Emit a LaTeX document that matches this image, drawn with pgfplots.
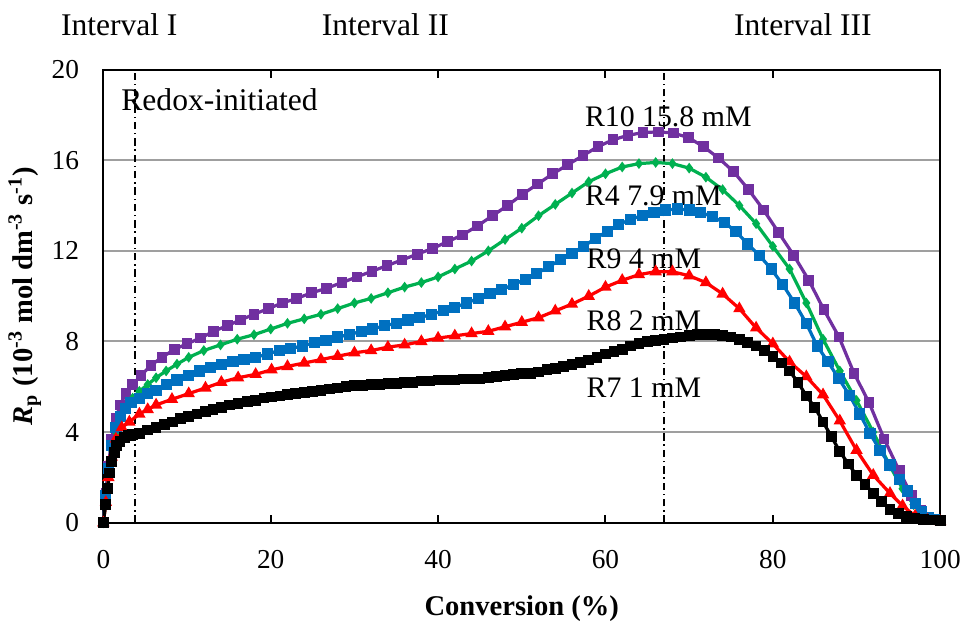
\documentclass[border=0pt]{standalone}
\usepackage{fontspec}
\setmainfont{Liberation Serif}
\usepackage{pgfplots}
\pgfplotsset{compat=1.18}
\definecolor{rpurple}{HTML}{7030A0}
\definecolor{rgreen}{HTML}{00B050}
\definecolor{rblue}{HTML}{0070C0}
\definecolor{rred}{HTML}{FF0000}

\begin{document}
\begin{tikzpicture}
\begin{axis}[
    scale only axis,
    width=336.8pt,
    height=182.4pt,
    xmin=0, xmax=100,
    ymin=0, ymax=20,
    xtick={0,20,...,100},
    ytick={0,4,...,20},
    clip=false,
    axis line style={line width=0.8pt},
    tick align=inside,
    major tick length=3.2pt,
    xtick style={black, line width=0.8pt},
    ytick style={draw=none},
    ymajorgrids=true,
    grid style={gray!75, line width=0.8pt},
    /pgf/number format/assume math mode=true,
    tick label style={font=\fontsize{11}{13}\selectfont},
    xticklabel style={yshift=-7.5pt},
    yticklabel style={xshift=-6.3pt},
    xlabel={\textbf{Conversion (\%)}},
    ylabel={\textbf{\textit{R}\textsubscript{p} (10\textsuperscript{-3} mol dm\textsuperscript{-3} s\textsuperscript{-1})}},
    label style={font=\fontsize{11.5}{13}\selectfont},
    xlabel style={at={(axis description cs:0.5,-0.19)}, anchor=center},
    ylabel style={at={(axis description cs:-0.094,0.5)}, anchor=center},
    every axis plot/.append style={line width=1.3pt},
]
% interval boundaries
\addplot[black, line width=0.6pt, dash pattern=on 3pt off 1.5pt on 0.6pt off 1.5pt, forget plot] coordinates {(3.8,0) (3.8,20)};
\addplot[black, line width=0.6pt, dash pattern=on 3pt off 1.5pt on 0.6pt off 1.5pt, forget plot] coordinates {(67.0,0) (67.0,20)};

% R10 15.8 mM
\addplot[rpurple, mark=square*, mark size=1.5pt] coordinates {
(0,0) (0.3,1.3) (0.6,2.5) (1.0,3.7) (1.5,4.6) (2.0,5.2) (2.7,5.7) (3.5,6.1)
(4.5,6.5) (5.7,6.95) (7.0,7.3) (8.5,7.65) (10.0,7.9) (11.6,8.15) (13.2,8.45)
(14.8,8.7) (16.4,8.95) (18.0,9.2) (19.7,9.45) (21.4,9.7) (23.1,9.9) (24.9,10.15)
(26.7,10.35) (28.5,10.6) (30.3,10.85) (32.1,11.1) (33.9,11.35) (35.7,11.6)
(37.5,11.85) (39.3,12.1) (41.1,12.4) (42.9,12.7) (44.7,13.1) (46.5,13.55)
(48.3,14.0) (50.1,14.5) (51.9,14.95) (53.7,15.4) (55.5,15.8) (57.3,16.2)
(59.1,16.6) (60.9,16.9) (62.7,17.1) (64.5,17.22) (66.3,17.25) (68.1,17.2)
(69.9,17.0) (71.7,16.6) (73.5,16.1) (75.3,15.5) (77.1,14.7) (78.9,13.8)
(80.7,12.8) (82.5,11.8) (84.3,10.7) (86.1,9.4) (87.9,8.2) (89.7,6.6)
(91.5,5.3) (93.3,3.7) (95.1,2.3) (96.6,1.2) (97.7,0.55) (98.6,0.25) (99.4,0.12) (100,0.1)
};
% R4 7.9 mM
\addplot[rgreen, mark=diamond*, mark size=1.1pt] coordinates {
(0,0) (0.3,1.0) (0.6,2.2) (1.0,3.2) (1.5,4.0) (2.0,4.6) (2.7,5.1) (3.5,5.5)
(4.3,5.8) (5.3,6.1) (6.3,6.4) (7.5,6.7) (8.8,7.0) (10.2,7.3) (12,7.6) (14,7.85)
(16,8.1) (18,8.3) (20,8.55) (22,8.8) (24,9.0) (26,9.2) (28,9.45) (30,9.7)
(32,9.9) (34,10.15) (36,10.4) (38,10.6) (40,10.85) (42,11.2) (44,11.55) (46,12.0)
(48,12.5) (50,13.0) (52,13.55) (54,14.05) (56,14.55) (58,15.05) (60,15.4)
(62,15.7) (64,15.85) (66,15.9) (68,15.85) (70,15.65) (72,15.25) (74,14.7)
(76,14.0) (78,13.2) (80,12.2) (82,11.2) (84,9.7) (86,8.1) (88,6.7) (90,5.4)
(92,4.0) (94,2.5) (95.5,1.5) (96.8,0.8) (98,0.35) (99,0.15) (100,0.1)
};
% R9 4 mM
\addplot[rblue, mark=square*, mark size=1.6pt] coordinates {
(0,0) (0.3,1.2) (0.6,2.4) (1.0,3.4) (1.5,4.2) (2.0,4.7) (2.6,5.05) (3.3,5.3)
(4.3,5.5) (5.3,5.7) (6.3,5.85) (7.5,6.1) (8.8,6.3) (10.2,6.5) (11.5,6.7)
(12.8,6.85) (14.1,7.0) (15.5,7.1) (16.8,7.2) (18.2,7.3) (19.6,7.45) (21,7.6)
(22.4,7.7) (23.8,7.8) (25.2,7.95) (26.6,8.05) (28,8.2) (29.4,8.3) (30.8,8.45)
(32.2,8.55) (33.6,8.7) (35,8.8) (36.4,8.95) (37.8,9.05) (39.2,9.2) (40.6,9.35)
(42,9.5) (43.4,9.7) (44.8,9.9) (46.2,10.1) (47.6,10.3) (49,10.5) (50.4,10.75)
(51.8,11.0) (53.2,11.3) (54.6,11.6) (56,11.9) (57.4,12.2) (58.8,12.55)
(60.2,12.85) (61.6,13.15) (63,13.4) (64.4,13.55) (65.8,13.7) (67.2,13.8)
(68.6,13.85) (70,13.8) (71.4,13.7) (72.8,13.5) (74.2,13.25) (75.6,12.85)
(77,12.3) (78.4,11.8) (79.8,11.2) (81.2,10.5) (82.6,9.7) (84,8.8) (85.3,7.8)
(86.6,7.1) (87.9,6.35) (89.2,5.6) (90.4,4.8) (91.6,3.95) (92.8,3.2) (94,2.55)
(95.1,1.9) (96.1,1.4) (97,0.85) (97.8,0.5) (98.6,0.25) (99.3,0.15) (100,0.1)
};
% R8 2 mM
\addplot[rred, mark=triangle*, mark size=1.6pt] coordinates {
(0,0) (0.3,0.9) (0.6,2.0) (1.0,2.9) (1.5,3.7) (2.2,4.2) (3.1,4.45) (4.3,4.8)
(5.3,5.0) (6.3,5.2) (8.2,5.45) (10.2,5.7) (12.2,5.95) (14.1,6.2) (16.1,6.4)
(18.2,6.55) (20.1,6.75) (22,6.9) (24,7.05) (26,7.2) (28,7.35) (30,7.5) (32,7.6)
(34,7.75) (36,7.85) (38,8.0) (40,8.15) (42,8.25) (44,8.35) (46,8.45) (48,8.65)
(50,8.85) (52,9.05) (54,9.35) (56,9.65) (58,10.0) (60,10.4) (62,10.7)
(64,10.95) (66,11.08) (68,11.08) (70,10.9) (72,10.6) (74,10.1) (76,9.45)
(78,8.6) (80,7.9) (82,7.1) (84,6.45) (86,5.65) (88,4.5) (90,3.2) (92,2.1)
(94,1.3) (95.5,0.75) (97,0.3) (98.5,0.12) (100,0.05)
};
% R7 1 mM
\addplot[black, mark=square*, mark size=1.5pt] coordinates {
(0,0) (0.25,0.8) (0.5,1.5) (0.75,2.2) (1.0,2.7) (1.3,3.1) (1.6,3.4) (2.0,3.6)
(2.5,3.75) (3.0,3.85) (3.5,3.9) (4.3,3.95) (5.3,4.1) (6.3,4.2) (7.3,4.35)
(8.3,4.45) (9.2,4.6) (10.2,4.7) (11.2,4.8) (12.2,4.9) (13.1,5.0) (14.1,5.1)
(15.1,5.2) (16.1,5.25) (17.2,5.35) (18.2,5.4) (19.2,5.5) (20.1,5.55) (21.1,5.6)
(22,5.65) (23,5.7) (24,5.75) (25,5.8) (26,5.85) (27,5.9) (28,5.95) (29,6.0)
(30,6.05) (31,6.05) (32,6.1) (33,6.1) (34,6.15) (35,6.15) (36,6.2) (37,6.2)
(38,6.25) (39,6.25) (40,6.3) (41,6.3) (42,6.3) (43,6.35) (44,6.35) (45,6.35)
(46,6.4) (47,6.45) (48,6.5) (49,6.55) (50,6.6) (51,6.6) (52,6.65) (53,6.75)
(54,6.82) (55,6.9) (56,6.98) (57,7.07) (58,7.18) (59,7.3) (60,7.45) (61,7.55)
(62,7.65) (63,7.8) (64,7.9) (65,8.0) (66,8.05) (67,8.1) (68,8.15) (69,8.2)
(70,8.25) (71,8.3) (72,8.3) (73,8.3) (74,8.25) (75,8.2) (76,8.1) (77,7.95)
(78,7.8) (79,7.6) (80,7.35) (81,7.05) (82,6.7) (83,6.2) (84,5.6) (85,5.1)
(86,4.45) (87,3.8) (88,3.15) (89,2.6) (90,2.1) (91,1.7) (92,1.3) (93,0.95)
(94,0.6) (95,0.4) (96,0.28) (97,0.2) (98,0.15) (99,0.12) (100,0.1)
};

\begin{scope}[every node/.style={font=\fontsize{12.7}{14}\selectfont, inner sep=0pt}]
\node at (axis cs:1.9,21.97) {Interval I};
\node at (axis cs:33.7,21.97) {Interval II};
\node at (axis cs:83.6,21.97) {Interval III};
\node[anchor=west] at (axis cs:2.1,18.68) {Redox-initiated};
\end{scope}
\begin{scope}[every node/.style={font=\fontsize{12}{14}\selectfont, inner sep=0pt, anchor=west}]
\node at (axis cs:57.5,17.9) {R10 15.8 mM};
\node at (axis cs:57.5,14.43) {R4 7.9 mM};
\node at (axis cs:57.7,11.67) {R9 4 mM};
\node at (axis cs:57.7,8.9) {R8 2 mM};
\node at (axis cs:57.7,5.96) {R7 1 mM};
\end{scope}
\end{axis}
\path (current axis.south west) ++(-41.6pt,-42.4pt);
\path (current axis.north east) ++(9.2pt,28pt);
\end{tikzpicture}
\end{document}
